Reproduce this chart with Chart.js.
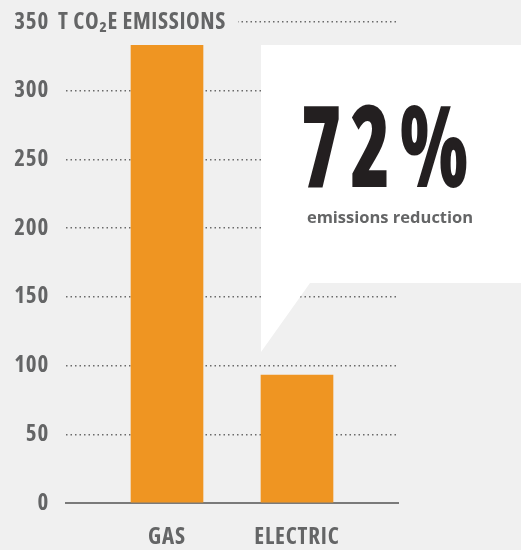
<!DOCTYPE html>
<html>
<head>
<meta charset="utf-8">
<script src="https://cdn.jsdelivr.net/npm/chart.js@4"></script>
<style>
  html, body { margin: 0; padding: 0; background: #f0f0f0; }
  canvas { display: block; }
</style>
</head>
<body>
<canvas id="chart" width="521" height="550"></canvas>
<script>
const categories = ['GAS', 'ELECTRIC'];
const emissions = [333, 93];
const yTicks = [0, 50, 100, 150, 200, 250, 300, 350];
const unitLabel = 'T CO₂E EMISSIONS';
const reductionValue = '72%';
const reductionLabel = 'emissions reduction';

const narrow = '"Open Sans", "Roboto", sans-serif';
const bg = '#f0f0f0';
const gray = '#646566';

// callout box, unit label after the top tick, letter spacing for axis text
const overlay = {
  id: 'overlay',
  beforeDraw(chart) {
    chart.ctx.letterSpacing = '0.8px';
  },
  beforeDatasetsDraw(chart) {
    const { ctx, chartArea, scales: { y } } = chart;
    const yTop = y.getPixelForValue(yTicks[yTicks.length - 1]);
    ctx.save();
    ctx.fillStyle = bg;
    ctx.fillRect(chartArea.left - 16, yTop - 14, 188, 28);
    ctx.fillStyle = gray;
    ctx.font = 'bold condensed 23px ' + narrow;
    ctx.textAlign = 'left';
    ctx.textBaseline = 'middle';
    ctx.letterSpacing = '0.6px';
    ctx.fillText(unitLabel, chartArea.left - 8, yTop);

    // white speech box
    ctx.fillStyle = '#ffffff';
    ctx.beginPath();
    ctx.moveTo(261, 45);
    ctx.lineTo(521, 45);
    ctx.lineTo(521, 283);
    ctx.lineTo(310, 283);
    ctx.lineTo(261, 352);
    ctx.closePath();
    ctx.fill();

    ctx.fillStyle = '#231f20';
    ctx.textAlign = 'center';
    ctx.textBaseline = 'alphabetic';
    ctx.letterSpacing = '12px';
    ctx.translate(389, 187);
    ctx.scale(0.72, 1);
    ctx.font = '800 condensed 114px ' + narrow;
    ctx.fillText(reductionValue, 0, 0);
    ctx.setTransform(1, 0, 0, 1, 0, 0);

    ctx.letterSpacing = '0px';
    ctx.fillStyle = gray;
    ctx.font = 'bold 16.5px "Open Sans", sans-serif';
    ctx.fillText(reductionLabel, 390, 223);
    ctx.restore();
  }
};

const ctx = document.getElementById('chart').getContext('2d');
new Chart(ctx, {
  type: 'bar',
  data: {
    datasets: [{
      data: emissions.map((v, i) => ({ x: i + 1, y: v })),
      backgroundColor: '#ef9522',
      barThickness: 72
    }]
  },
  options: {
    responsive: false,
    animation: false,
    layout: { padding: { left: 0, right: 123, top: 22, bottom: 0 } },
    plugins: { legend: { display: false }, tooltip: { enabled: false } },
    scales: {
      x: {
        type: 'linear',
        offset: false,
        min: 0.223,
        max: 2.777,
        afterFit: (scale) => { scale.height = 47; },
        afterBuildTicks: (scale) => { scale.ticks = categories.map((c, i) => ({ value: i + 1 })); },
        ticks: {
          callback: (v) => categories[v - 1],
          color: gray,
          padding: 13,
          font: { family: narrow, size: 23, weight: 'bold condensed' }
        },
        grid: { display: false },
        border: { display: true, color: '#7a7a7a', width: 2 }
      },
      y: {
        min: 0,
        max: 350,
        afterFit: (scale) => { scale.width = 66; scale.paddingTop = 0; scale.paddingBottom = 0; },
        afterBuildTicks: (scale) => { scale.ticks = yTicks.map(v => ({ value: v })); },
        ticks: {
          color: gray,
          padding: 17,
          font: { family: narrow, size: 23, weight: 'bold condensed' }
        },
        grid: {
          color: (c) => c.tick && c.tick.value === 0 ? 'transparent' : '#6a6a6a',
          lineWidth: 1.5,
          drawTicks: false
        },
        border: { display: false, dash: [1.5, 3] }
      }
    }
  },
  plugins: [overlay]
});
</script>
</body>
</html>
